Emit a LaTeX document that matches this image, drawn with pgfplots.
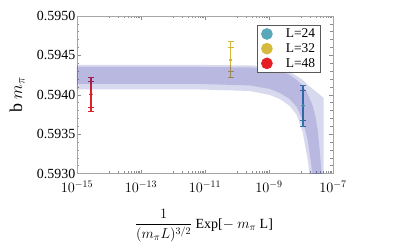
\documentclass[border=0pt]{standalone}
\usepackage{amsmath}
\usepackage{fontspec}
\setmainfont{Liberation Serif}
\usepackage{pgfplots}
\pgfplotsset{compat=1.18}
\definecolor{bandc}{RGB}{38,38,161}
\definecolor{cred}{RGB}{222,32,40}
\definecolor{cyel}{RGB}{212,182,52}
\definecolor{cblu}{RGB}{58,135,170}
\definecolor{lred}{RGB}{228,30,36}
\definecolor{lyel}{RGB}{214,186,62}
\definecolor{lblu}{RGB}{88,168,186}
\pgfplotsset{
  ebar/.style={#1, only marks, mark=*, mark size=1.4bp, forget plot,
    error bars/.cd, y dir=both, y explicit,
    error bar style={line width=1.4bp, #1},
    error mark=-,
    error mark options={rotate=90, #1, line width=1bp, mark size=3bp}},
}
\begin{document}
\begin{tikzpicture}
\path[use as bounding box] (-77bp,-75.5bp) rectangle (322bp,173.5bp);
\begin{axis}[
  at={(0,0)}, anchor=south west,
  scale only axis, width=256bp, height=157.5bp,
  xmode=log, xmin=1e-15, xmax=1e-7, ymin=0.5930, ymax=0.5950,
  xtick={1e-15,1e-13,1e-11,1e-9,1e-7},
  xticklabels={$10^{-15}$,$10^{-13}$,$10^{-11}$,$10^{-9}$,$10^{-7}$},
  minor xtick={1e-14,2e-14,3e-14,4e-14,5e-14,6e-14,7e-14,8e-14,9e-14,
               1e-12,2e-12,3e-12,4e-12,5e-12,6e-12,7e-12,8e-12,9e-12,
               1e-10,2e-10,3e-10,4e-10,5e-10,6e-10,7e-10,8e-10,9e-10,
               1e-8,2e-8,3e-8,4e-8,5e-8,6e-8,7e-8,8e-8,9e-8},
  ytick={0.593,0.5935,0.594,0.5945,0.595},
  yticklabels={0.5930,0.5935,0.5940,0.5945,0.5950},
  minor ytick={0.5931,0.5932,0.5933,0.5934,0.5936,0.5937,0.5938,0.5939,
               0.5941,0.5942,0.5943,0.5944,0.5946,0.5947,0.5948,0.5949},
  tick align=inside,
  major tick length=4bp, minor tick length=2.5bp,
  axis line style={black!35},
  every tick/.style={black!45, line width=0.5bp},
  ticklabel style={font=\fontsize{14}{14}\selectfont},
  yticklabel style={inner xsep=1.5bp, inner ysep=0bp},
  xticklabel style={inner xsep=1.5bp, inner ysep=0bp, yshift=-7.5bp},
  scaled y ticks=false,
  ylabel={b $m_\pi$},
  ylabel style={at={(axis description cs:-0.234,0.498)}, anchor=center, font=\fontsize{18}{18}\selectfont},
  xlabel={$\dfrac{1}{(m_\pi L)^{3/2}}$ Exp[$-$ $m_\pi$ L]},
  xlabel style={at={(axis description cs:0.496,-0.33)}, anchor=center, font=\fontsize{14}{14}\selectfont},
  legend style={at={(0.951,0.943)}, anchor=north east, draw=black!65, line width=0.6bp,
    font=\fontsize{13.5}{13.5}\selectfont, inner xsep=3bp, inner ysep=1.5bp, row sep=0.3bp},
  legend cell align=left,
  legend image code/.code={\path[draw=none, fill=none] (0bp,0bp) rectangle (24bp,0.1bp);
     \draw[#1] plot coordinates {(7bp,0bp)};},
]
% error bars: outer then inner
\addplot[ebar=cred] coordinates {(2.73e-15,0.594005) +- (0,0.000212)};
\addplot[ebar=cred] coordinates {(2.73e-15,0.594005) +- (0,0.000163)};
\addplot[ebar=cyel] coordinates {(6.31e-11,0.594442) +- (0,0.000229)};
\addplot[ebar=cyel] coordinates {(6.31e-11,0.594442) +- (0,0.000153)};
\addplot[ebar=cblu] coordinates {(1.16e-8,0.593862) +- (0,0.000259)};
\addplot[ebar=cblu] coordinates {(1.16e-8,0.593862) +- (0,0.000186)};
% outer band
\addplot[draw=none, fill=bandc, fill opacity=0.18, forget plot] coordinates {
(1e-15,0.594379) (6.98e-12,0.594379) (2.52e-10,0.594372) (1.06e-9,0.594360)
(2.17e-9,0.594334) (4.45e-9,0.594290) (7.36e-9,0.594239) (1.13e-8,0.594188)
(1.62e-8,0.594125) (2.32e-8,0.594074) (3.33e-8,0.594023) (5.12e-8,0.593959)
(5.12e-8,0.5925) (2.32e-8,0.5925) (1.87e-8,0.592981) (1.62e-8,0.593172)
(1.13e-8,0.593527) (7.36e-9,0.593743) (4.45e-9,0.593858) (2.17e-9,0.593947)
(1.06e-9,0.593997) (2.52e-10,0.594048) (6.98e-12,0.594067) (1e-15,0.594067)
} -- cycle;
% inner band
\addplot[draw=none, fill=bandc, fill opacity=0.18, forget plot] coordinates {
(1e-15,0.594353) (6.98e-12,0.594353) (2.52e-10,0.594347) (1.06e-9,0.594328)
(2.17e-9,0.594302) (4.45e-9,0.594252) (7.36e-9,0.594188) (1.13e-8,0.594112)
(1.62e-8,0.594010) (2.32e-8,0.593858) (2.88e-8,0.593705) (3.33e-8,0.593553)
(3.84e-8,0.593299) (4.44e-8,0.592981) (5.12e-8,0.5925)
(2.88e-8,0.5925) (2.32e-8,0.592981) (1.62e-8,0.593426) (1.13e-8,0.593680)
(7.36e-9,0.593845) (4.45e-9,0.593947) (2.17e-9,0.594023) (1.06e-9,0.594074)
(2.52e-10,0.594118) (6.98e-12,0.594137) (1e-15,0.594137)
} -- cycle;
\addlegendimage{only marks, mark=*, mark size=5.5bp, lblu}
\addlegendentry{L=24}
\addlegendimage{only marks, mark=*, mark size=5.5bp, lyel}
\addlegendentry{L=32}
\addlegendimage{only marks, mark=*, mark size=5.5bp, lred}
\addlegendentry{L=48}
\end{axis}
\end{tikzpicture}
\end{document}
